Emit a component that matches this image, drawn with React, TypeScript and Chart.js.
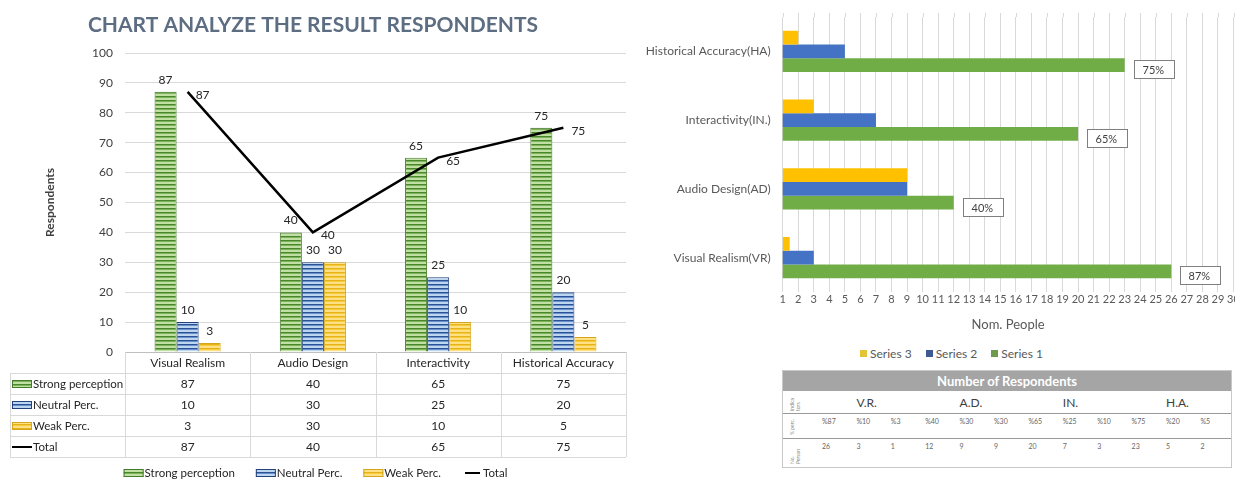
import React, { useEffect, useRef } from "react";
import { Chart, registerables } from "chart.js";
Chart.register(...registerables);

const FONT = "Lato";

// ---- Left chart data ----
const categories = ["Visual Realism", "Audio Design", "Interactivity", "Historical Accuracy"];
const strongPerception = [87, 40, 65, 75];
const neutralPerc = [10, 30, 25, 20];
const weakPerc = [3, 30, 10, 5];
const totalValues = [87, 40, 65, 75];
const leftTitle = "CHART ANALYZE THE RESULT RESPONDENTS";
const leftYTitle = "Respondents";
const seriesNames = ["Strong perception", "Neutral Perc.", "Weak Perc.", "Total"];

// ---- Right chart data ----
const hbarCategories = ["Historical Accuracy(HA)", "Interactivity(IN.)", "Audio Design(AD)", "Visual Realism(VR)"];
const series1 = [23, 20, 12, 26];
const series2 = [5, 7, 9, 3];
const series3 = [2, 3, 9, 1];
const series1Labels = ["75%", "65%", "40%", "87%"];
const hbarMin = 1;
const hbarMax = 30;
const hbarXTitle = "Nom. People";

// ---- Right table data ----
const tableTitle = "Number of Respondents";
const tableGroups = ["V.R.", "A.D.", "IN.", "H.A."];
const tablePercents = ["%87", "%10", "%3", "%40", "%30", "%30", "%65", "%25", "%10", "%75", "%20", "%5"];
const tableCounts = ["26", "3", "1", "12", "9", "9", "20", "7", "3", "23", "5", "2"];
const tableRowHeads = ["Indica tors", "% perc.", "No. Person"];

function stripe(ctx: CanvasRenderingContext2D, light: string, mid: string, dark: string) {
  const c = document.createElement("canvas");
  c.width = 4;
  c.height = 4;
  const g = c.getContext("2d")!;
  g.fillStyle = light;
  g.fillRect(0, 0, 4, 4);
  g.fillStyle = dark;
  g.fillRect(0, 0, 4, 1);
  g.fillStyle = mid;
  g.fillRect(0, 1, 4, 1);
  return ctx.createPattern(c, "repeat")!;
}

export default function App() {
  const leftRef = useRef<HTMLCanvasElement>(null);
  const rightRef = useRef<HTMLCanvasElement>(null);

  useEffect(() => {
    const lctx = leftRef.current!.getContext("2d")!;
    const greenPat = stripe(lctx, "#bfe0a2", "#7cb356", "#4a8530");
    const bluePat = stripe(lctx, "#bcd6f0", "#6890cc", "#2c5295");
    const yellowPat = stripe(lctx, "#ffe082", "#f7cb3a", "#e5b21e");
    const pats = [greenPat, bluePat, yellowPat];
    const borders = ["#467a2c", "#23427a", "#d2a51c"];
    const barData = [strongPerception, neutralPerc, weakPerc];

    const leftPlugin = {
      id: "leftExtras",
      afterDatasetsDraw(chart: any) {
        const ctx = chart.ctx;
        ctx.save();
        ctx.font = `12px ${FONT}`;
        ctx.fillStyle = "#262626";
        ctx.textAlign = "center";
        ctx.textBaseline = "middle";
        [0, 1, 2].forEach((di) => {
          const meta = chart.getDatasetMeta(di);
          meta.data.forEach((el: any, i: number) => {
            ctx.fillText(String(barData[di][i]), el.x, el.y - 12);
          });
        });
        const lm = chart.getDatasetMeta(3);
        ctx.textAlign = "left";
        lm.data.forEach((pt: any, i: number) => {
          ctx.fillText(String(totalValues[i]), pt.x + 8, pt.y + 3);
        });
        ctx.restore();
      },
      afterDraw(chart: any) {
        const ctx = chart.ctx;
        const ca = chart.chartArea;
        ctx.save();
        // Title
        ctx.font = `bold 21px ${FONT}`;
        ctx.fillStyle = "#5d6d82";
        ctx.textAlign = "center";
        ctx.textBaseline = "middle";
        ctx.fillText(leftTitle, 313, 25);

        // Data table
        const rowH = 21;
        const top0 = Math.round(ca.bottom);
        const colW = (ca.right - ca.left) / categories.length;
        const tableLeft = 10;
        const bottom = top0 + rowH * 5;
        ctx.strokeStyle = "#d9d9d9";
        ctx.lineWidth = 1;
        ctx.beginPath();
        for (let r = 1; r <= 5; r++) {
          const y = top0 + r * rowH + 0.5;
          ctx.moveTo(tableLeft, y);
          ctx.lineTo(ca.right, y);
        }
        ctx.moveTo(tableLeft + 0.5, top0 + rowH);
        ctx.lineTo(tableLeft + 0.5, bottom);
        for (let i = 0; i <= categories.length; i++) {
          const x = Math.round(ca.left + i * colW) + 0.5;
          ctx.moveTo(x, top0);
          ctx.lineTo(x, bottom);
        }
        ctx.stroke();

        const rowVals = [strongPerception, neutralPerc, weakPerc, totalValues];
        for (let r = 0; r < 4; r++) {
          const cy = top0 + rowH * (r + 1) + rowH / 2 + 0.5;
          // key
          if (r < 3) {
            ctx.fillStyle = pats[r];
            ctx.fillRect(12, cy - 4, 20, 8);
            ctx.strokeStyle = borders[r];
            ctx.strokeRect(12.5, cy - 3.5, 19, 7);
          } else {
            ctx.fillStyle = "#000";
            ctx.fillRect(12, cy - 1, 20, 2);
          }
          ctx.fillStyle = "#262626";
          ctx.textAlign = "left";
          ctx.font = `11.5px ${FONT}`;
          ctx.fillText(seriesNames[r], 33, cy);
          ctx.textAlign = "center";
          ctx.font = `12px ${FONT}`;
          for (let i = 0; i < categories.length; i++) {
            ctx.fillText(String(rowVals[r][i]), ca.left + colW * (i + 0.5), cy);
          }
        }

        // Legend
        const ly = 473;
        const gap = 20;
        ctx.font = `11.5px ${FONT}`;
        const widths = seriesNames.map((n) => 22 + ctx.measureText(n).width);
        const total = widths.reduce((a, b) => a + b, 0) + gap * (seriesNames.length - 1);
        let lx = 316 - total / 2;
        ctx.textAlign = "left";
        seriesNames.forEach((n, r) => {
          if (r < 3) {
            ctx.fillStyle = pats[r];
            ctx.fillRect(lx, ly - 4, 20, 8);
            ctx.strokeStyle = borders[r];
            ctx.strokeRect(lx + 0.5, ly - 3.5, 19, 7);
          } else {
            ctx.fillStyle = "#000";
            ctx.fillRect(lx + 3, ly - 1, 15, 2);
          }
          ctx.fillStyle = "#262626";
          ctx.fillText(n, lx + 21, ly);
          lx += widths[r] + gap;
        });
        ctx.restore();
      },
    };

    const left = new Chart(leftRef.current!, {
      type: "bar",
      data: {
        labels: categories,
        datasets: [
          ...barData.map((d, i) => ({
            type: "bar" as const,
            label: seriesNames[i],
            data: d,
            backgroundColor: pats[i],
            borderColor: borders[i],
            borderWidth: 1,
            categoryPercentage: 0.528,
            barPercentage: 1,
            order: 1,
          })),
          {
            type: "line" as const,
            label: seriesNames[3],
            data: totalValues,
            borderColor: "#000",
            borderWidth: 2.5,
            pointRadius: 0,
            tension: 0,
            order: 0,
          } as any,
        ],
      },
      options: {
        responsive: false,
        animation: false,
        layout: { padding: { top: 53, left: 0, right: 4, bottom: 0 } },
        plugins: { legend: { display: false }, title: { display: false }, tooltip: { enabled: false } },
        scales: {
          x: {
            grid: { display: false, drawTicks: false },
            border: { display: true, color: "#bfbfbf" },
            ticks: { font: { family: FONT, size: 12 }, color: "#262626", padding: 4 },
            afterFit: (s: any) => {
              s.height = 129;
              s.paddingLeft = 0;
              s.paddingRight = 0;
            },
          },
          y: {
            min: 0,
            max: 100,
            ticks: { stepSize: 10, font: { family: FONT, size: 12 }, color: "#404040", padding: 12 },
            grid: { color: "#d9d9d9", drawTicks: false },
            border: { display: false },
            title: {
              display: true,
              text: leftYTitle,
              font: { family: FONT, size: 12, weight: "bold" },
              color: "#404040",
              padding: { top: 43, bottom: 0 },
            },
            afterFit: (s: any) => {
              s.width = 125;
              s.paddingTop = 0;
              s.paddingBottom = 0;
            },
          },
        },
      },
      plugins: [leftPlugin],
    } as any);

    const rightPlugin = {
      id: "rightExtras",
      beforeDatasetsDraw(chart: any) {
        // gridlines in the reference start a little above the first category band
        const ctx = chart.ctx;
        const xs = chart.scales.x;
        ctx.save();
        ctx.strokeStyle = "#d9d9d9";
        ctx.lineWidth = 1;
        ctx.beginPath();
        xs.ticks.forEach((t: any) => {
          const x = Math.round(xs.getPixelForValue(t.value)) + 0.5;
          ctx.moveTo(x, 13);
          ctx.lineTo(x, chart.chartArea.top);
        });
        ctx.stroke();
        ctx.restore();
      },
      afterDatasetsDraw(chart: any) {
        const ctx = chart.ctx;
        const meta = chart.getDatasetMeta(2);
        ctx.save();
        ctx.font = `11px ${FONT}`;
        ctx.textBaseline = "middle";
        ctx.textAlign = "left";
        meta.data.forEach((el: any, i: number) => {
          const x0 = Math.round(el.x + 9) + 0.5;
          const y0 = Math.round(el.y - 5) + 0.5;
          ctx.fillStyle = "#fff";
          ctx.fillRect(x0, y0, 40, 18);
          ctx.strokeStyle = "#7f7f7f";
          ctx.lineWidth = 1;
          ctx.strokeRect(x0, y0, 40, 18);
          ctx.fillStyle = "#404040";
          ctx.fillText(series1Labels[i], x0 + 8, y0 + 9.5);
        });
        ctx.restore();
      },
    };

    const right = new Chart(rightRef.current!, {
      type: "bar",
      data: {
        labels: hbarCategories,
        datasets: [
          { label: "Series 3", data: series3, backgroundColor: "#FFC000", minBarLength: 7, base: hbarMin - 0.01 },
          { label: "Series 2", data: series2, backgroundColor: "#4472C4" },
          { label: "Series 1", data: series1, backgroundColor: "#70AD47" },
        ],
      },
      options: {
        indexAxis: "y",
        responsive: false,
        animation: false,
        datasets: { bar: { categoryPercentage: 0.6, barPercentage: 1 } },
        layout: { padding: { top: 17, right: 1.5, left: 0, bottom: 0 } },
        plugins: { legend: { display: false }, title: { display: false }, tooltip: { enabled: false } },
        scales: {
          x: {
            type: "linear",
            min: hbarMin,
            max: hbarMax,
            ticks: {
              stepSize: 1,
              autoSkip: false,
              maxRotation: 0,
              font: { family: FONT, size: 11 },
              color: "#595959",
              padding: 1,
            },
            grid: { color: "#d9d9d9", drawTicks: false },
            border: { display: false },
            title: {
              display: true,
              text: hbarXTitle,
              font: { family: FONT, size: 13 },
              color: "#595959",
              padding: { top: 0, bottom: 7 },
            },
            afterFit: (s: any) => {
              s.height = 48;
              s.paddingLeft = 0;
              s.paddingRight = 0;
            },
          },
          y: {
            ticks: { font: { family: FONT, size: 12 }, color: "#595959", padding: 12 },
            grid: { display: false, drawTicks: false },
            border: { display: false },
            afterFit: (s: any) => {
              s.width = 152.7;
              s.paddingTop = 0;
              s.paddingBottom = 0;
            },
          },
        },
      },
      plugins: [rightPlugin],
    } as any);

    return () => {
      left.destroy();
      right.destroy();
    };
  }, []);

  const colLeft = (i: number) => 39 + i * 34.4;
  const legendItems = [
    { name: "Series 3", color: "#E2C534" },
    { name: "Series 2", color: "#3F5A93" },
    { name: "Series 1", color: "#6E9A4E" },
  ];

  return (
    <div
      style={{
        position: "absolute",
        left: 0,
        top: 0,
        width: 1235,
        height: 481,
        background: "#fff",
        overflow: "hidden",
        fontFamily: FONT,
      }}
    >
      <canvas ref={leftRef} width={630} height={481} style={{ position: "absolute", left: 0, top: 0 }} />
      <canvas ref={rightRef} width={605} height={340} style={{ position: "absolute", left: 630, top: 0 }} />

      {/* Right legend */}
      <div
        style={{
          position: "absolute",
          left: 860,
          top: 346,
          display: "flex",
          alignItems: "center",
          fontSize: 12,
          color: "#595959",
          whiteSpace: "nowrap",
        }}
      >
        {legendItems.map((it) => (
          <div key={it.name} style={{ display: "flex", alignItems: "center", marginRight: 14 }}>
            <span style={{ display: "inline-block", width: 7, height: 7, background: it.color, marginRight: 3 }} />
            <span>{it.name}</span>
          </div>
        ))}
      </div>

      {/* Right table */}
      <div
        style={{
          position: "absolute",
          left: 782,
          top: 370,
          width: 450,
          border: "1px solid #c8c8c8",
          boxSizing: "border-box",
          color: "#404040",
        }}
      >
        <div
          style={{
            height: 20,
            lineHeight: "20px",
            background: "#a5a5a5",
            color: "#fff",
            fontWeight: "bold",
            fontSize: 13,
            textAlign: "center",
          }}
        >
          {tableTitle}
        </div>
        <div style={{ position: "relative", height: 22, borderBottom: "1.5px solid #999" }}>
          <div style={{ position: "absolute", left: 6, top: 2, fontSize: 5, color: "#888", writingMode: "vertical-rl", transform: "rotate(180deg)", height: 18, lineHeight: "6px" }}>
            {tableRowHeads[0]}
          </div>
          {tableGroups.map((g, k) => (
            <div key={g} style={{ position: "absolute", left: colLeft(3 * k + 1), top: 4, fontSize: 12 }}>
              {g}
            </div>
          ))}
        </div>
        <div style={{ position: "relative", height: 24, borderBottom: "1.5px solid #999" }}>
          <div style={{ position: "absolute", left: 6, top: 3, fontSize: 5, color: "#888", writingMode: "vertical-rl", transform: "rotate(180deg)", height: 18, lineHeight: "6px" }}>
            {tableRowHeads[1]}
          </div>
          {tablePercents.map((p, i) => (
            <div key={i} style={{ position: "absolute", left: colLeft(i), top: 3, fontSize: 7, color: "#666" }}>
              {p}
            </div>
          ))}
        </div>
        <div style={{ position: "relative", height: 28 }}>
          <div style={{ position: "absolute", left: 6, top: 3, fontSize: 5, color: "#888", writingMode: "vertical-rl", transform: "rotate(180deg)", height: 22, lineHeight: "6px" }}>
            {tableRowHeads[2]}
          </div>
          {tableCounts.map((p, i) => (
            <div key={i} style={{ position: "absolute", left: colLeft(i), top: 3, fontSize: 7, color: "#666" }}>
              {p}
            </div>
          ))}
        </div>
      </div>
    </div>
  );
}
